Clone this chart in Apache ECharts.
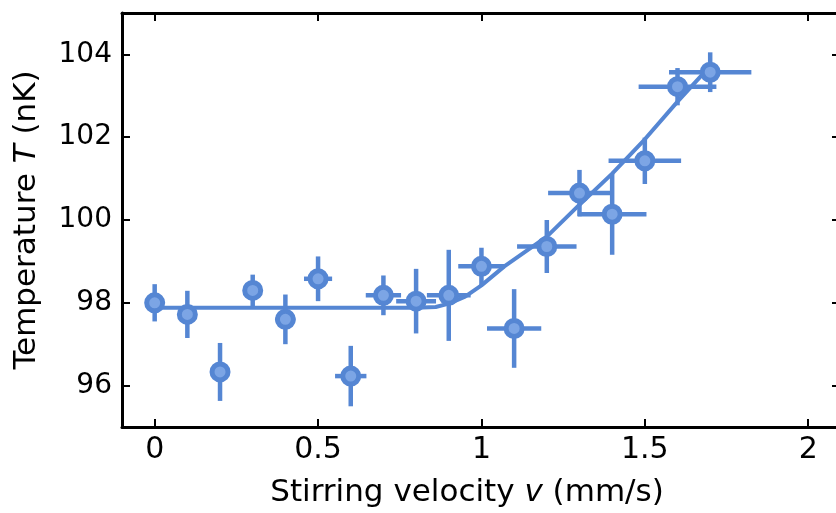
<!DOCTYPE html>
<html>
<head>
<meta charset="utf-8">
<script src="https://cdn.jsdelivr.net/npm/echarts@6/dist/echarts.min.js"></script>
<style>html,body{margin:0;padding:0;background:#fff}#c{width:836px;height:513px}</style>
</head>
<body>
<div id="c"></div>
<script>
var velocity = [0, 0.1, 0.2, 0.3, 0.4, 0.5, 0.6, 0.7, 0.8, 0.9, 1.0, 1.1, 1.2, 1.3, 1.4, 1.5, 1.6, 1.7];
var temperature = [98.0, 97.72, 96.33, 98.3, 97.6, 98.58, 96.23, 98.18, 98.04, 98.18, 98.88, 97.38, 99.36, 100.65, 100.14, 101.43, 103.22, 103.57];
var velocityErr = [0, 0.007, 0.015, 0.022, 0.03, 0.043, 0.048, 0.054, 0.061, 0.067, 0.071, 0.083, 0.091, 0.096, 0.105, 0.111, 0.119, 0.126];
var temperatureErr = [0.45, 0.57, 0.7, 0.38, 0.6, 0.54, 0.73, 0.48, 0.78, 1.1, 0.45, 0.95, 0.64, 0.56, 0.98, 0.56, 0.45, 0.48];
var fitV = [0, 0.8, 0.86, 0.9, 0.95, 1.0, 1.07, 1.2, 1.3, 1.4, 1.5, 1.6, 1.68];
var fitT = [97.88, 97.88, 97.9, 97.98, 98.15, 98.42, 98.88, 99.6, 100.37, 101.12, 101.95, 102.86, 103.55];
var xTicks = [0, 0.5, 1, 1.5, 2];
var yTicks = [96, 98, 100, 102, 104];

var blue = '#5586d3';
var lightBlue = '#7ca5e5';
var font = 'DejaVu Sans';

var points = velocity.map(function (v, i) { return [v, temperature[i]]; });
var errData = velocity.map(function (v, i) { return [v, temperature[i], velocityErr[i], temperatureErr[i]]; });
var fitData = fitV.map(function (v, i) { return [v, fitT[i]]; });

var chart = echarts.init(document.getElementById('c'), null, {renderer: 'canvas'});
var axisLine = {show: true, onZero: false, lineStyle: {color: '#000', width: 3}};
var tickLine = {color: '#000', width: 2};
chart.setOption({
  animation: false,
  backgroundColor: '#fff',
  grid: {left: 122, right: 0, top: 13, bottom: 85},
  xAxis: [{
    type: 'value', min: -0.1, max: 2.085, position: 'bottom',
    axisLine: axisLine,
    axisTick: {show: true, inside: true, length: 8, customValues: xTicks, lineStyle: tickLine},
    axisLabel: {customValues: xTicks, fontFamily: font, fontSize: 30, color: '#000', margin: 8},
    splitLine: {show: false},
    name: 'Stirring velocity {i|v} (mm/s)', nameLocation: 'middle', nameGap: 50,
    nameTextStyle: {fontFamily: font, fontSize: 31, color: '#000', padding: [0, 24, 0, 0],
      rich: {i: {fontFamily: font, fontSize: 31, fontStyle: 'italic', color: '#000'}}}
  }, {
    type: 'value', min: -0.1, max: 2.085, position: 'top',
    axisLine: axisLine,
    axisTick: {show: true, inside: true, length: 8, customValues: xTicks, lineStyle: tickLine},
    axisLabel: {show: false}, splitLine: {show: false}
  }],
  yAxis: [{
    type: 'value', min: 95, max: 105, position: 'left',
    axisLine: axisLine,
    axisTick: {show: true, inside: true, length: 8, customValues: yTicks, lineStyle: tickLine},
    axisLabel: {customValues: yTicks, fontFamily: font, fontSize: 28, color: '#000', margin: 10},
    splitLine: {show: false},
    name: 'Temperature {i|T} (nK)', nameLocation: 'middle', nameGap: 80,
    nameTextStyle: {fontFamily: font, fontSize: 31, color: '#000',
      rich: {i: {fontFamily: font, fontSize: 31, fontStyle: 'italic', color: '#000'}}}
  }, {
    type: 'value', min: 95, max: 105, position: 'right',
    axisLine: {show: false, onZero: false},
    axisTick: {show: true, inside: true, length: 4, customValues: yTicks, lineStyle: tickLine},
    axisLabel: {show: false}, splitLine: {show: false}
  }],
  series: [{
    type: 'custom',
    xAxisIndex: 0, yAxisIndex: 0,
    data: errData,
    z: 1,
    renderItem: function (params, api) {
      var v = api.value(0), t = api.value(1), ev = api.value(2), et = api.value(3);
      var a = api.coord([v - ev, t]), b = api.coord([v + ev, t]);
      var c = api.coord([v, t - et]), d = api.coord([v, t + et]);
      var st = {stroke: blue, lineWidth: 4.5, lineCap: 'butt'};
      return {type: 'group', children: [
        {type: 'line', shape: {x1: a[0], y1: a[1], x2: b[0], y2: b[1]}, style: st},
        {type: 'line', shape: {x1: c[0], y1: c[1], x2: d[0], y2: d[1]}, style: st}
      ]};
    },
    encode: {x: 0, y: 1}
  }, {
    type: 'line',
    xAxisIndex: 0, yAxisIndex: 0,
    data: fitData,
    showSymbol: false, symbol: 'none',
    lineStyle: {color: blue, width: 4},
    z: 2
  }, {
    type: 'scatter',
    xAxisIndex: 0, yAxisIndex: 0,
    data: points,
    symbol: 'circle', symbolSize: 16,
    itemStyle: {color: lightBlue, borderColor: blue, borderWidth: 5, opacity: 1},
    z: 3
  }]
});
</script>
</body>
</html>
